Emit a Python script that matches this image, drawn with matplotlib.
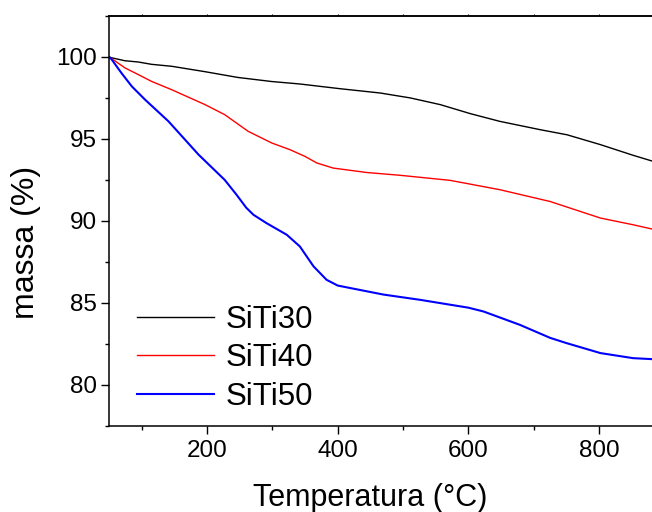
import numpy as np
import matplotlib.pyplot as plt
from matplotlib.ticker import MultipleLocator

plt.rcParams['font.family'] = ['Liberation Sans', 'DejaVu Sans']

# curvas TGA (temperatura em °C, massa em %)
temp_30 = [50, 54, 74, 95, 115, 146, 197, 247, 299, 342, 404, 465, 511, 557, 603, 648, 710, 751, 802, 852, 881]
massa_30 = [100.0, 99.95, 99.77, 99.69, 99.55, 99.43, 99.1, 98.75, 98.5, 98.35, 98.06, 97.8, 97.5, 97.09, 96.54, 96.07, 95.56, 95.25, 94.65, 94.0, 93.65]

temp_40 = [50, 54, 74.5, 95, 115, 146, 197, 227, 263, 299, 327, 350, 368, 393, 444, 495, 572, 648, 725, 802, 852, 881]
massa_40 = [100.0, 99.9, 99.33, 98.92, 98.51, 98.0, 97.09, 96.48, 95.46, 94.75, 94.34, 93.93, 93.53, 93.22, 92.95, 92.78, 92.47, 91.9, 91.18, 90.17, 89.76, 89.5]

temp_50 = [50, 54, 69, 85, 105, 141, 187, 227, 245, 260, 271, 291, 322, 342, 363, 383, 400, 419, 470, 526, 600, 623, 679, 725, 750, 802, 852, 881]
massa_50 = [100.0, 99.85, 99.02, 98.2, 97.4, 96.07, 94.04, 92.5, 91.6, 90.8, 90.37, 89.86, 89.15, 88.44, 87.22, 86.4, 86.05, 85.9, 85.5, 85.18, 84.7, 84.47, 83.65, 82.86, 82.54, 81.93, 81.62, 81.56]

fig = plt.figure(figsize=(6.52, 5.12), dpi=100)
ax = fig.add_axes([0.1672, 0.1686, 0.8328, 0.8002])

ax.plot(temp_30, massa_30, color='black', lw=1.0, label='SiTi30')
ax.plot(temp_40, massa_40, color='red', lw=1.0, label='SiTi40')
ax.plot(temp_50, massa_50, color='blue', lw=1.5, label='SiTi50')

ax.set_xlim(50, 881)
ax.set_ylim(77.5, 102.5)
ax.xaxis.set_major_locator(MultipleLocator(200))
ax.xaxis.set_minor_locator(MultipleLocator(100))
ax.yaxis.set_major_locator(MultipleLocator(5))
ax.yaxis.set_minor_locator(MultipleLocator(2.5))

for s in ax.spines.values():
    s.set_linewidth(1.1)
ax.spines['right'].set_visible(False)

ax.tick_params(axis='both', which='major', direction='out', length=5.5, width=1.0, labelsize=17.5)
ax.tick_params(axis='both', which='minor', direction='out', length=3, width=1.0)
ax.tick_params(axis='x', which='both', pad=5)
ax.tick_params(axis='y', which='major', pad=3)

# marcas pequenas no eixo superior
ax_top = ax.secondary_xaxis('top')
ax_top.xaxis.set_major_locator(MultipleLocator(100))
ax_top.tick_params(direction='out', length=1.5, width=0.8, labeltop=False)
ax_top.spines['top'].set_linewidth(1.1)

ax.set_xlabel('Temperatura (°C)', fontsize=22)
ax.set_ylabel('massa (%)', fontsize=23)
ax.xaxis.set_label_coords(0.4807, -0.14)
ax.yaxis.set_label_coords(-0.125, 0.447)

ax.legend(loc='center left', bbox_to_anchor=(0.0516, 0.1645), bbox_transform=ax.transAxes,
          frameon=False, fontsize=22.5, handlelength=2.45, handletextpad=0.4,
          labelspacing=0.28, borderpad=0, borderaxespad=0)

fig.savefig('out.png', dpi=100)
